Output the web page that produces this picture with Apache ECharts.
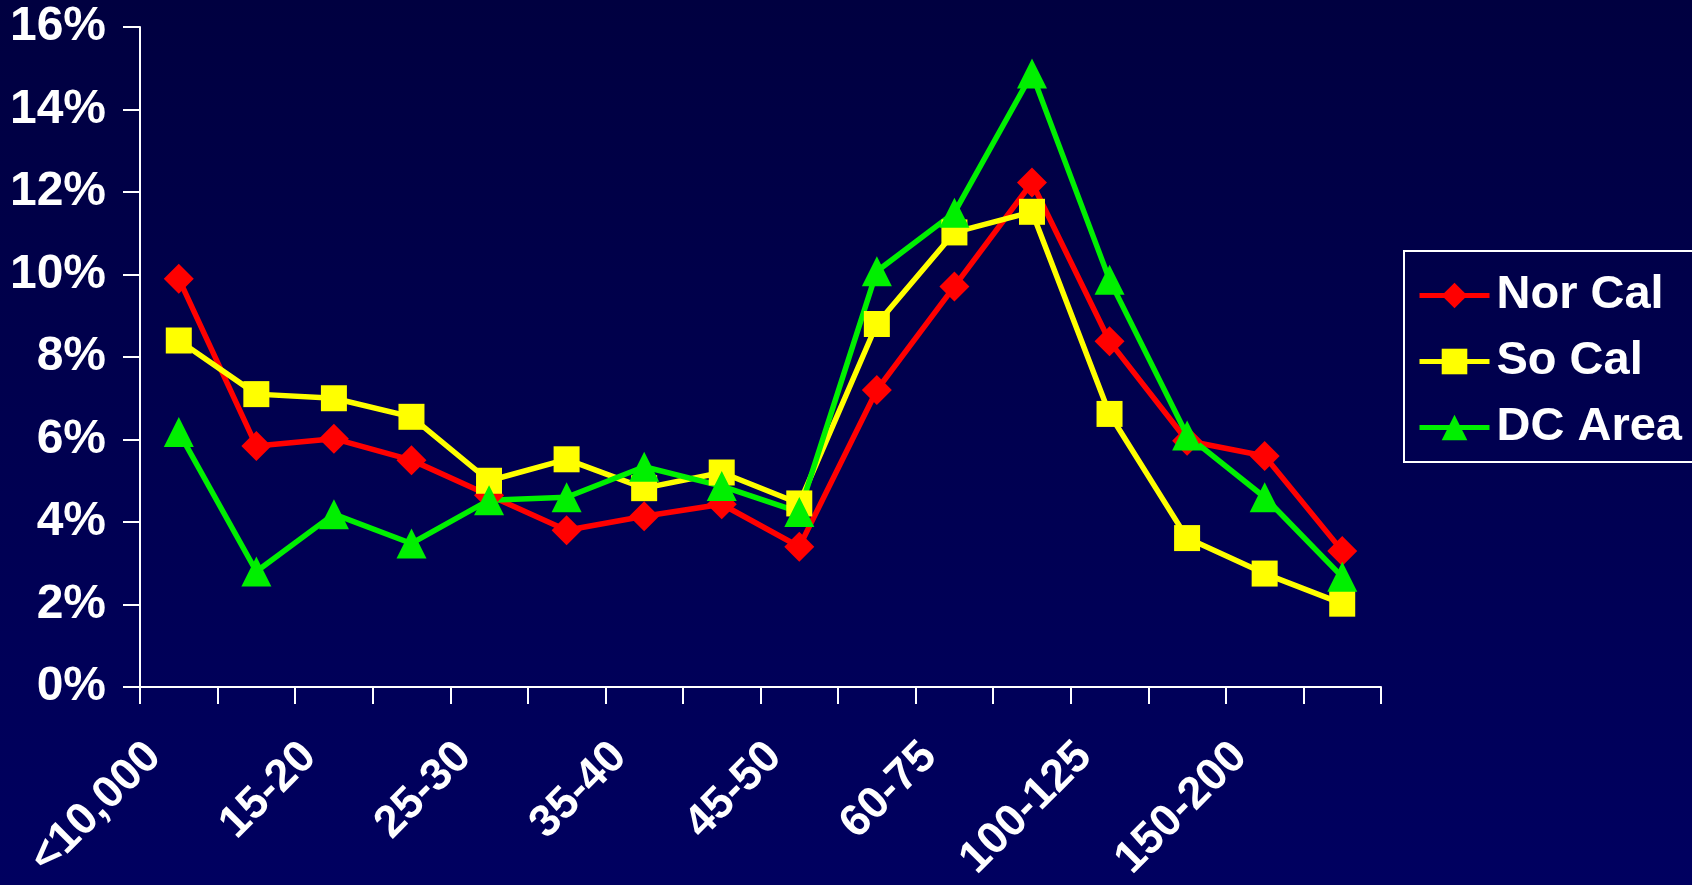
<!DOCTYPE html>
<html>
<head>
<meta charset="utf-8">
<title>Income distribution by region</title>
<script src="https://cdn.jsdelivr.net/npm/echarts@6/dist/echarts.min.js"></script>
<style>
  html, body { margin: 0; padding: 0; width: 100%; height: 100%; overflow: hidden; }
  #chart { width: 1692px; height: 885px; }
</style>
</head>
<body>
<div id="chart"></div>
<script>
// Income brackets (thousands of dollars, except the first)
const categories = ['<10,000', '10-15', '15-20', '20-25', '25-30', '30-35', '35-40', '40-45',
                    '45-50', '50-60', '60-75', '75-100', '100-125', '125-150', '150-200', '200+'];

// Share of households in each bracket, percent
const norCal = [9.9, 5.84, 6.02, 5.5, 4.65, 3.8, 4.14, 4.43, 3.4, 7.2, 9.71, 12.23, 8.38, 5.97, 5.6, 3.3];
const soCal  = [8.4, 7.1, 7.0, 6.55, 5.0, 5.52, 4.82, 5.2, 4.45, 8.8, 11.02, 11.52, 6.62, 3.61, 2.75, 2.02];
const dcArea = [6.18, 2.8, 4.19, 3.48, 4.53, 4.6, 5.34, 4.87, 4.24, 10.08, 11.5, 14.87, 9.87, 6.1, 4.6, 2.67];

const yTicks = [0, 2, 4, 6, 8, 10, 12, 14, 16];

const FONT = '"Liberation Sans", Arial, sans-serif';

function lineSeries(name, data, color, symbol, size) {
  return {
    name: name,
    type: 'line',
    data: data,
    symbol: symbol,
    symbolSize: size,
    showAllSymbol: true,
    lineStyle: { color: color, width: 5.5 },
    itemStyle: { color: color, borderWidth: 0 },
    emphasis: { disabled: true },
    animation: false,
    z: 3
  };
}

const chart = echarts.init(document.getElementById('chart'), null, { renderer: 'canvas' });

chart.setOption({
  backgroundColor: {
    type: 'linear', x: 0, y: 0, x2: 0, y2: 1,
    colorStops: [
      { offset: 0, color: '#000040' },
      { offset: 1, color: '#000060' }
    ]
  },
  grid: { left: 140, right: 311, top: 27, bottom: 198, containLabel: false },
  legend: {
    orient: 'vertical',
    left: 1404,
    top: 251,
    padding: [21, 30, 11, 13],
    itemGap: 19,
    itemWidth: 70,
    itemHeight: 32,
    borderColor: '#ffffff',
    borderWidth: 2,
    lineStyle: { width: 5 },
    textStyle: { color: '#ffffff', fontFamily: FONT, fontWeight: 'bold', fontSize: 47, padding: [0, 0, 0, 2] },
    data: ['Nor Cal', 'So Cal', 'DC Area']
  },
  xAxis: {
    type: 'category',
    data: categories,
    boundaryGap: true,
    axisLine: { lineStyle: { color: '#ffffff', width: 2 } },
    axisTick: { show: true, inside: false, length: 17, interval: 0, lineStyle: { color: '#ffffff', width: 2 } },
    axisLabel: {
      interval: 1,
      rotate: 45,
      margin: 38,
      color: '#ffffff',
      fontFamily: FONT,
      fontWeight: 'bold',
      fontSize: 45,
      padding: [0, 35, 0, 0]
    },
    splitLine: { show: false }
  },
  yAxis: {
    type: 'value',
    min: yTicks[0],
    max: yTicks[yTicks.length - 1],
    interval: 2,
    axisLine: { show: true, lineStyle: { color: '#ffffff', width: 2 } },
    axisTick: { show: true, inside: false, length: 17, lineStyle: { color: '#ffffff', width: 2 } },
    axisLabel: {
      margin: 34,
      color: '#ffffff',
      fontFamily: FONT,
      fontWeight: 'bold',
      fontSize: 48,
      formatter: function (v) { return v + '%'; }
    },
    splitLine: { show: false }
  },
  series: [
    lineSeries('Nor Cal', norCal, '#ff0000', 'diamond', 30),
    lineSeries('So Cal', soCal, '#ffff00', 'rect', 26),
    lineSeries('DC Area', dcArea, '#00f000', 'triangle', 30)
  ]
});
</script>
</body>
</html>
